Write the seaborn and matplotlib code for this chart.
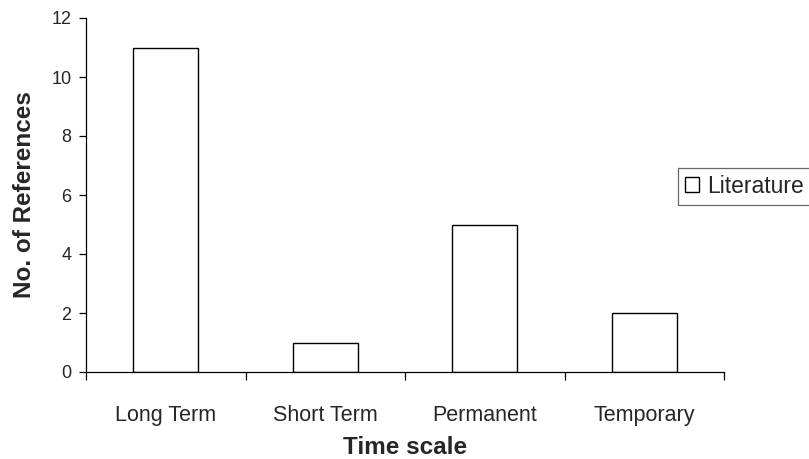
import matplotlib
matplotlib.use("Agg")
import matplotlib.pyplot as plt
import seaborn as sns
import pandas as pd
from matplotlib.ticker import FixedLocator, MultipleLocator

categories = ["Long Term", "Short Term", "Permanent", "Temporary"]
values = [11, 1, 5, 2]
series_name = "Literature"

sns.set_theme(style="white")
plt.rcParams['font.family'] = ['Liberation Sans', 'DejaVu Sans']

df = pd.DataFrame({"Time scale": categories, "No. of References": values, "series": series_name})

fig = plt.figure(figsize=(8.09, 4.59), dpi=100)
ax = fig.add_axes([86/809, 1-372/459, (724-86)/809, (372-18)/459])

sns.barplot(data=df, x="Time scale", y="No. of References", hue="series",
            palette=["white"], edgecolor="black", linewidth=1.0, width=0.41,
            ax=ax, legend=True)

ax.set_xlim(-0.5, 3.5)
ax.set_ylim(0, 12)
ax.yaxis.set_major_locator(MultipleLocator(2))
ax.set_xticks(range(len(categories)))
ax.set_xticklabels(categories, fontsize=15.5)
ax.xaxis.set_minor_locator(FixedLocator([-0.5, 0.5, 1.5, 2.5, 3.5]))
ax.tick_params(axis="x", which="major", length=0, pad=24)
ax.tick_params(axis="x", which="minor", length=6, width=0.9, color="black", direction="out", bottom=True)
ax.tick_params(axis="y", which="major", length=5, width=0.9, color="black", direction="out", left=True, pad=5.5)
for lab in ax.get_yticklabels():
    lab.set_fontsize(13)

ax.spines["top"].set_visible(False)
ax.spines["right"].set_visible(False)
for s in ("left", "bottom"):
    ax.spines[s].set_color("black")
    ax.spines[s].set_linewidth(0.9)

ax.set_xlabel("Time scale", fontsize=17.5, fontweight="bold")
ax.set_ylabel("No. of References", fontsize=17.5, fontweight="bold")
ax.xaxis.set_label_coords(0.5, (372-436)/354)
ax.yaxis.set_label_coords((36-86)/638, (372-195)/354)

leg = ax.legend(loc="upper left", bbox_to_anchor=(678/809, 1-168/459), bbox_transform=fig.transFigure,
                frameon=True, fancybox=False, edgecolor="#444444", fontsize=16.5,
                handlelength=0.62, handleheight=0.62, handletextpad=0.36, borderpad=0.3,
                borderaxespad=0)
leg.get_frame().set_linewidth(0.9)
for h in leg.legend_handles:
    h.set_edgecolor("black")
    h.set_facecolor("white")

fig.savefig("out.png", dpi=100)
